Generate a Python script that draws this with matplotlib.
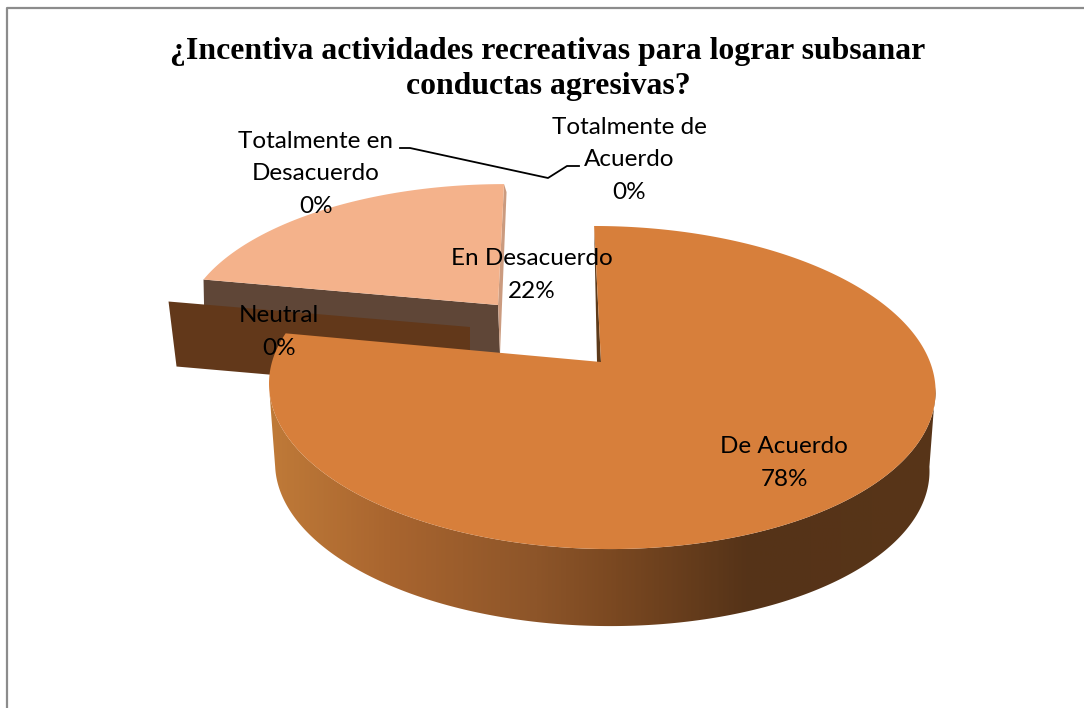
import numpy as np
import matplotlib.pyplot as plt
from matplotlib.colors import LinearSegmentedColormap
from matplotlib.patches import Polygon

# datos del grafico
categorias = ['Totalmente de\nAcuerdo', 'De Acuerdo', 'Neutral', 'En Desacuerdo', 'Totalmente en\nDesacuerdo']
valores = [0, 78, 0, 22, 0]
titulo = '¿Incentiva actividades recreativas para lograr subsanar\nconductas agresivas?'

# posicion de cada etiqueta (x, y en pixeles)
pos_etiquetas = [(629, 160), (784, 463), (279, 332), (532, 275), (316, 174)]

k = 0.158  # perspectiva
inicio = np.cumsum([0] + valores[:-1]) / 100 * 2 * np.pi
fin = np.cumsum(valores) / 100 * 2 * np.pi


def proyectar(ang, cx, cy, rx, ry, sesgo, r=1.0):
    # angulo en sentido horario desde arriba
    X = r * np.sin(ang)
    Y = r * np.cos(ang)
    d = 1 + k * Y
    return cx + (rx * X + sesgo * Y) / d, cy - ry * Y / d


fig = plt.figure(figsize=(10.84, 7.08), dpi=100)
ax = fig.add_axes([0, 0, 1, 1])

# marco
ax.plot([6.5, 6.5, 1084], [708, 8, 8], color='#8c8c8c', lw=1.6, zorder=1)

# --- En Desacuerdo ---
g2 = dict(cx=498, cy=305, rx=310, ry=140, sesgo=7)
prof2 = 49
a = np.linspace(inicio[3], fin[3], 120)
x2, y2 = proyectar(a, **g2)
# cara del corte
ax.fill([g2['cx'], x2[0], x2[0] + 1, g2['cx'] + 2],
        [g2['cy'], y2[0], y2[0] + prof2, g2['cy'] + prof2],
        color='#5f4637', lw=0, zorder=2)
# lateral fino a la derecha
ax.fill([x2[-1], x2[-1] + 2.5, g2['cx'] + 2, g2['cx']],
        [y2[-1], y2[-1] + 8, g2['cy'] + prof2, g2['cy']],
        color='#cb9b7f', lw=0, zorder=2)
ax.fill(np.r_[g2['cx'], x2], np.r_[g2['cy'], y2], color='#f4b28b', lw=0, zorder=3)

# --- Neutral (0%), solo se ve la cara ---
g3 = dict(cx=470, cy=327, rx=316, ry=140, sesgo=0)
prof3 = 65
xn, yn = proyectar(inicio[2], **g3)
ax.fill([g3['cx'], xn, xn + 8, g3['cx']],
        [g3['cy'], yn, yn + prof3, g3['cy'] + prof3],
        color='#62381a', lw=0, zorder=4)

# --- De Acuerdo ---
g1 = dict(cx=601, cy=362, rx=329, ry=157.5, sesgo=-8)
g1b = dict(cx=601, cy=442, rx=323, ry=155, sesgo=-8)
a = np.linspace(inicio[1], fin[1], 720)
x1, y1 = proyectar(a, **g1)

# lateral con degradado segun x, solo la parte visible (de extremo a extremo)
grad = LinearSegmentedColormap.from_list('lateral', [
    (0.00, '#bf7a38'), (0.18, '#a9652f'), (0.40, '#8d5529'), (0.52, '#7a4821'),
    (0.72, '#553318'), (1.00, '#583518')])
av = np.linspace(np.radians(99), np.radians(261), 300)
xa, ya = proyectar(av, **g1)
xb, yb = proyectar(av, **g1b)
borde = Polygon(np.c_[np.r_[xa, xb[::-1]], np.r_[ya, yb[::-1]]], closed=True, transform=ax.transData)
img = ax.imshow(np.linspace(0, 1, 400)[None, :], cmap=grad, extent=(269, 936, 640, 380), aspect='auto', zorder=5)
img.set_clip_path(borde)

# astilla oscura del corte superior
ax.fill([x1[0], g1['cx'] - 4, g1['cx']], [y1[0], g1['cy'], g1['cy']],
        color='#5d3a1a', lw=0, zorder=5)
ax.fill(np.r_[g1['cx'], x1], np.r_[g1['cy'], y1], color='#d77f3b', lw=0, zorder=6)

# titulo
ax.text(548, 69, titulo, family='Liberation Serif', weight='bold', fontsize=22.9,
        ha='center', va='center', linespacing=1.24, color='black', zorder=10)

# etiquetas
for cat, val, (px, py) in zip(categorias, valores, pos_etiquetas):
    ax.text(px, py, f'{cat}\n{val}%', family='Lato', fontsize=17.5, ha='center', va='center',
            linespacing=1.65, color='black', zorder=10)

# lineas guia
ax.plot([400, 410, 548, 567, 579], [148, 148, 178, 166, 166], color='black', lw=1.3, zorder=9)

ax.set_xlim(0, 1084)
ax.set_ylim(708, 0)
ax.axis('off')

fig.savefig('out.png', dpi=100)
